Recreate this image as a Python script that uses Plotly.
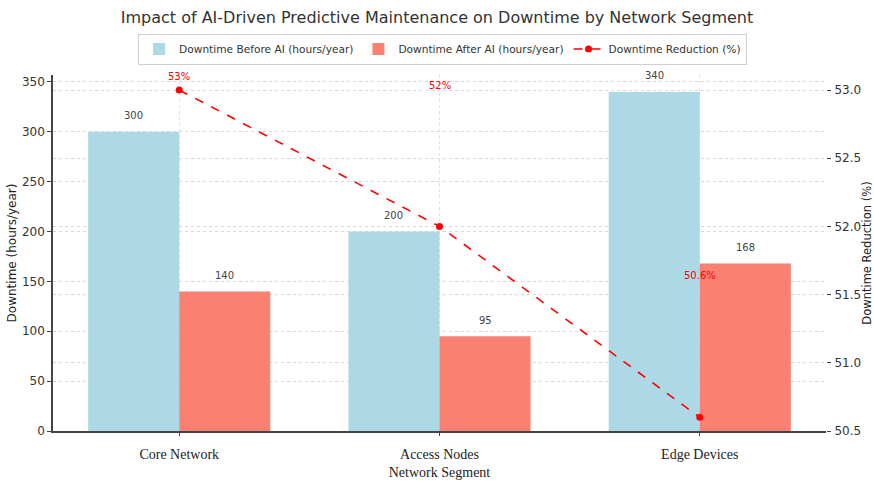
import plotly.graph_objects as go

# Data
segments = ["Core Network", "Access Nodes", "Edge Devices"]
before_ai = [300, 200, 340]
after_ai = [140, 95, 168]
reduction_pct = [53, 52, 50.6]
reduction_text = ["53%", "52%", "50.6%"]
reduction_label_y2 = [53.10, 53.03, 51.64]

left_ticks = [0, 50, 100, 150, 200, 250, 300, 350]
right_ticks = [50.5, 51.0, 51.5, 52.0, 52.5, 53.0]

x_pos = list(range(len(segments)))
bar_w = 0.35

BLUE = "#ADD8E6"
SALMON = "#FA8072"
RED = "#FF0000"
SANS = "DejaVu Sans"
SERIF = "Liberation Serif"

fig = go.Figure()

fig.add_trace(go.Bar(
    x=[p - bar_w / 2 for p in x_pos], y=before_ai, width=bar_w,
    name="Downtime Before AI (hours/year)", marker_color=BLUE,
    marker_line_width=0,
))
fig.add_trace(go.Bar(
    x=[p + bar_w / 2 for p in x_pos], y=after_ai, width=bar_w,
    name="Downtime After AI (hours/year)", marker_color=SALMON,
    marker_line_width=0,
))
fig.add_trace(go.Scatter(
    x=x_pos, y=reduction_pct, yaxis="y2", mode="lines+markers",
    name="Downtime Reduction (%)",
    line=dict(color=RED, width=1.6, dash="dash"),
    marker=dict(color=RED, size=7),
))

annotations = []
# value labels above bars
for p, v in zip(x_pos, before_ai):
    annotations.append(dict(x=p - bar_w / 2, y=v, xref="x", yref="y", text=str(v),
                            showarrow=False, yshift=16,
                            font=dict(family=SANS, size=10, color="#444")))
for p, v in zip(x_pos, after_ai):
    annotations.append(dict(x=p + bar_w / 2, y=v, xref="x", yref="y", text=str(v),
                            showarrow=False, yshift=16,
                            font=dict(family=SANS, size=10, color="#444")))
# reduction labels
for p, ly, t in zip(x_pos, reduction_label_y2, reduction_text):
    annotations.append(dict(x=p, y=ly, xref="x", yref="y2", text=t,
                            showarrow=False,
                            font=dict(family=SANS, size=10, color=RED)))

fig.update_layout(
    width=874, height=483,
    margin=dict(l=53, r=48, t=75, b=52),
    paper_bgcolor="white", plot_bgcolor="white",
    title=dict(text="Impact of AI-Driven Predictive Maintenance on Downtime by Network Segment",
               x=0.5, xanchor="center", y=0.965, yanchor="middle",
               font=dict(family=SANS, size=16, color="#333")),
    barmode="overlay",
    showlegend=True,
    legend=dict(orientation="h", x=0.504, xanchor="center", y=1.073, yanchor="middle",
                bordercolor="#d0d0d0", borderwidth=1, bgcolor="white",
                font=dict(family=SANS, size=10.6, color="#333"),
                itemwidth=30, tracegroupgap=0),
    xaxis=dict(
        range=[-0.485, 2.485], tickmode="array", tickvals=x_pos, ticktext=segments,
        tickfont=dict(family=SERIF, size=14, color="#222"),
        showgrid=True, gridcolor="#e2e2e2", griddash="dot", gridwidth=1,
        showline=True, linecolor="#444", linewidth=1.5,
        ticks="outside", ticklen=3, tickcolor="#444", ticklabelstandoff=6,
        zeroline=False, automargin=False,
        title=dict(text="Network Segment", standoff=7,
                   font=dict(family=SERIF, size=14, color="#222")),
    ),
    yaxis=dict(
        range=[0, 357], tickmode="array", tickvals=left_ticks,
        tickfont=dict(family=SANS, size=12, color="#333"),
        showgrid=True, gridcolor="#d8d8d8", griddash="dot", gridwidth=1,
        showline=True, linecolor="#444", linewidth=1.5,
        ticks="outside", ticklen=4, tickcolor="#444",
        zeroline=False, automargin=False,
        title=dict(text="Downtime (hours/year)", standoff=3,
                   font=dict(family=SANS, size=12, color="#222")),
    ),
    yaxis2=dict(
        overlaying="y", side="right", range=[50.5, 53.11],
        tickmode="array", tickvals=right_ticks,
        ticktext=[f"{t:.1f}" for t in right_ticks],
        tickfont=dict(family=SANS, size=12, color="#333"),
        showgrid=True, gridcolor="#d8d8d8", griddash="dot", gridwidth=1,
        showline=False, ticks="outside", ticklen=4, tickcolor="#444",
        ticklabelstandoff=1,
        zeroline=False, automargin=False,
        title=dict(text="Downtime Reduction (%)", standoff=10,
                   font=dict(family=SANS, size=11.5, color="#222")),
    ),
    annotations=annotations,
)

fig.write_html("out.html")
